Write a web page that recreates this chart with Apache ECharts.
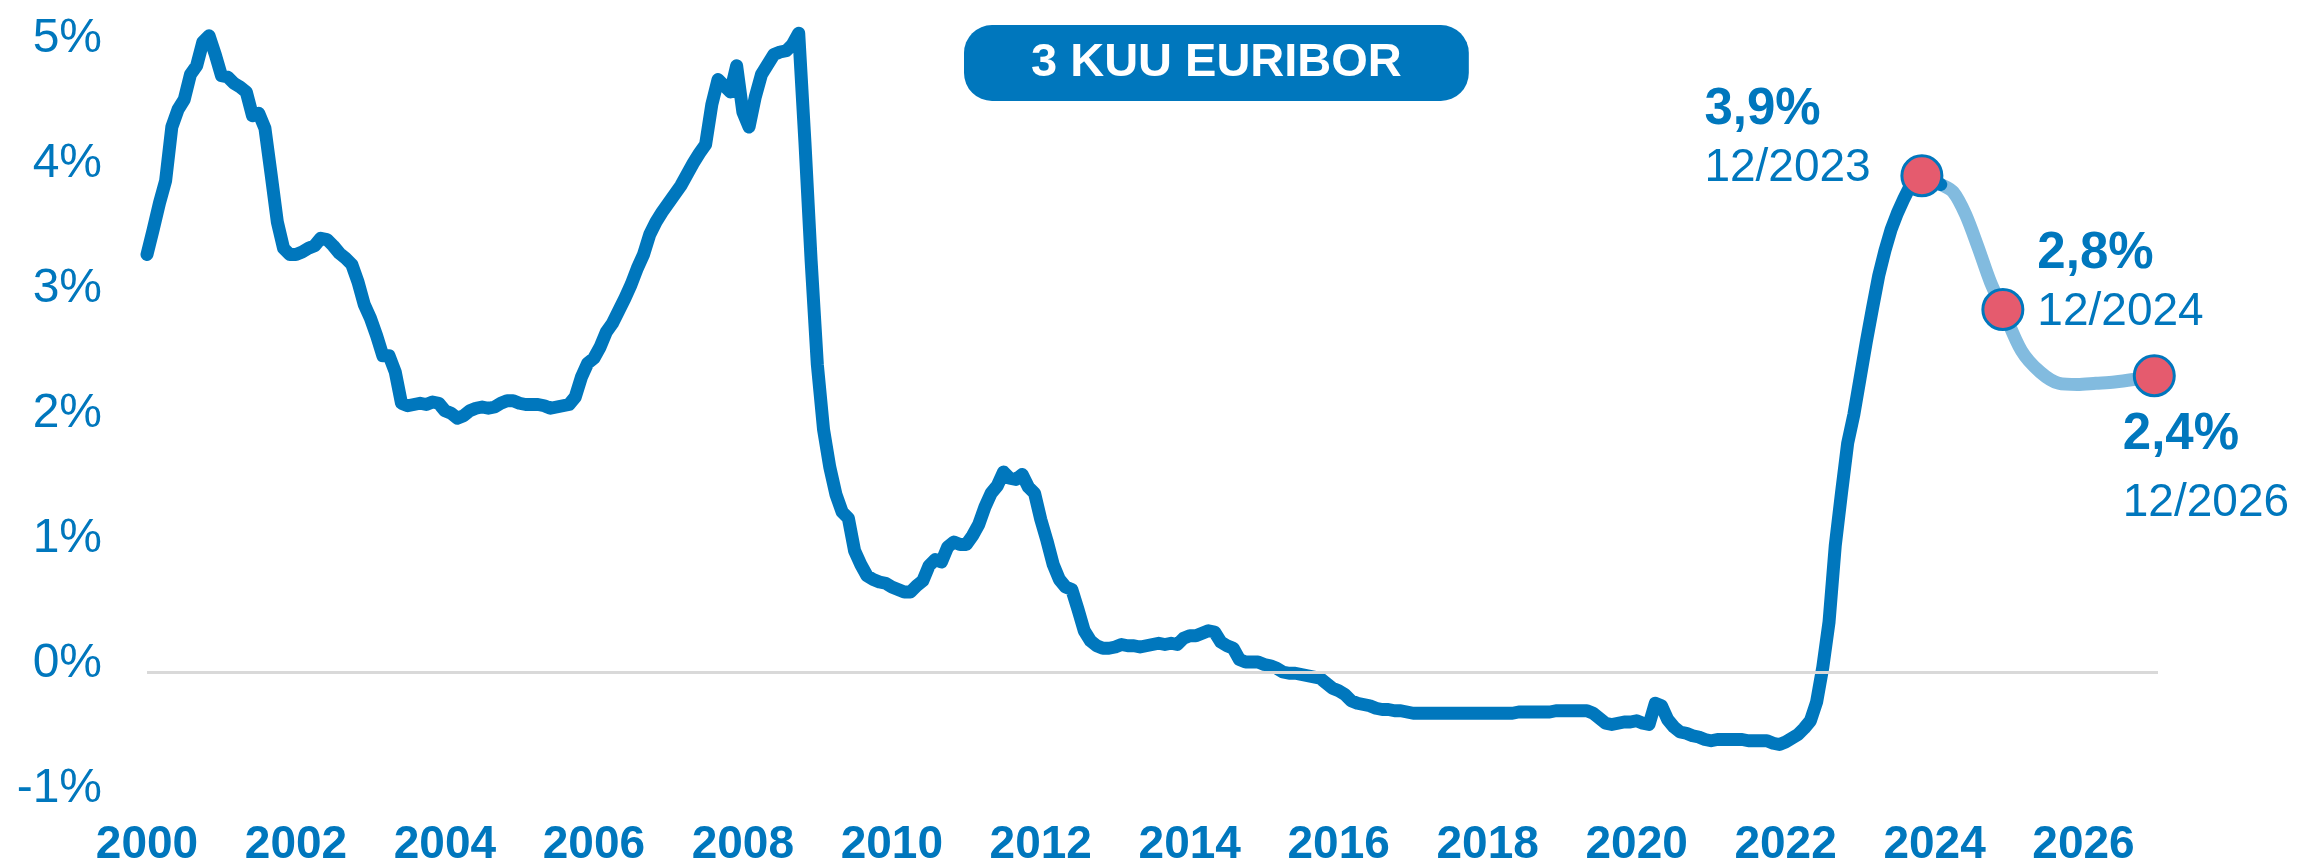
<!DOCTYPE html>
<html>
<head>
<meta charset="utf-8">
<script src="https://cdn.jsdelivr.net/npm/echarts@6/dist/echarts.min.js"></script>
<style>
  html, body { margin: 0; padding: 0; background: #fff; }
  #chart { width: 2300px; height: 868px; }
</style>
</head>
<body>
<div id="chart"></div>
<script>
// 3kk euribor, kuukausikeskiarvot (%), tammikuu 2000 alkaen
var euribor2000s = [
  3.34, 3.54, 3.75, 3.93, 4.36, 4.50, 4.58, 4.78, 4.85, 5.04, 5.09, 4.94,
  4.77, 4.76, 4.71, 4.68, 4.64, 4.45, 4.47, 4.35, 3.98, 3.60, 3.39, 3.34,
  3.34, 3.36, 3.39, 3.41, 3.47, 3.46, 3.41, 3.35, 3.31, 3.26, 3.12, 2.94,
  2.83, 2.69, 2.53, 2.53, 2.40, 2.15, 2.13, 2.14, 2.15, 2.14, 2.16, 2.15,
  2.09, 2.07, 2.03, 2.05, 2.09, 2.11, 2.12, 2.11, 2.12, 2.15, 2.17, 2.17,
  2.15, 2.14, 2.14, 2.14, 2.13, 2.11, 2.12, 2.13, 2.14, 2.20, 2.36, 2.47,
  2.51, 2.60, 2.72, 2.79, 2.89, 2.99, 3.10, 3.23, 3.34, 3.50, 3.60, 3.68,
  3.75, 3.82, 3.89, 3.98, 4.07, 4.15, 4.22, 4.54, 4.74, 4.69, 4.64, 4.85,
  4.48, 4.36, 4.60, 4.78, 4.86, 4.94, 4.96, 4.97, 5.02, 5.11, 4.24, 3.29,
  2.46, 1.94, 1.64, 1.42, 1.28, 1.23, 0.97, 0.86, 0.77, 0.74, 0.72, 0.71
];
var euribor2010s = [
  0.68, 0.66, 0.64, 0.64, 0.69, 0.73, 0.85, 0.90, 0.88, 1.00, 1.04, 1.02,
  1.02, 1.09, 1.18, 1.32, 1.43, 1.49, 1.60, 1.55, 1.54, 1.58, 1.48, 1.43,
  1.22, 1.05, 0.86, 0.74, 0.68, 0.66, 0.50, 0.33, 0.25, 0.21, 0.19, 0.19,
  0.20, 0.22, 0.21, 0.21, 0.20, 0.21, 0.22, 0.23, 0.22, 0.23, 0.22, 0.27,
  0.29, 0.29, 0.31, 0.33, 0.32, 0.24, 0.21, 0.19, 0.10, 0.08, 0.08, 0.08,
  0.06, 0.05, 0.03, 0.00, -0.01, -0.01, -0.02, -0.03, -0.04, -0.05, -0.09, -0.13,
  -0.15, -0.18, -0.23, -0.25, -0.26, -0.27, -0.29, -0.30, -0.30, -0.31, -0.31, -0.32,
  -0.33, -0.33, -0.33, -0.33, -0.33, -0.33, -0.33, -0.33, -0.33, -0.33, -0.33, -0.33,
  -0.33, -0.33, -0.33, -0.33, -0.33, -0.32, -0.32, -0.32, -0.32, -0.32, -0.32, -0.31,
  -0.31, -0.31, -0.31, -0.31, -0.31, -0.33, -0.37, -0.41, -0.42, -0.41, -0.40, -0.40
];
var euribor2020s = [
  -0.39, -0.41, -0.42, -0.25, -0.27, -0.38, -0.44, -0.48, -0.49, -0.51, -0.52, -0.54,
  -0.55, -0.54, -0.54, -0.54, -0.54, -0.54, -0.55, -0.55, -0.55, -0.55, -0.57, -0.58,
  -0.56, -0.53, -0.50, -0.45, -0.39, -0.24, 0.04, 0.40, 1.01, 1.43, 1.83, 2.06,
  2.35, 2.64, 2.91, 3.17, 3.37, 3.54, 3.67, 3.78, 3.88, 3.97, 3.97, 3.94,
  3.93, 3.90
];

// ennuste (vuosi desimaalina)
var forecastDates = [2023.917, 2024.083, 2024.25, 2024.417, 2024.583, 2024.75, 2024.917,
  2025.167, 2025.417, 2025.667, 2025.917, 2026.167, 2026.417, 2026.667, 2026.95];
var forecastValues = [3.94, 3.90, 3.84, 3.66, 3.40, 3.12, 2.90,
  2.57, 2.40, 2.31, 2.30, 2.31, 2.32, 2.34, 2.37];

// merkityt pisteet
var markerDates = [2023.83, 2024.917, 2026.95];
var markerValues = [3.97, 2.90, 2.37];
var markerValueLabels = ['3,9%', '2,8%', '2,4%'];
var markerDateLabels = ['12/2023', '12/2024', '12/2026'];

var yTicks = [-1, 0, 1, 2, 3, 4, 5];

var BLUE = '#0077BD';
var LIGHT = '#82BBDF';
var RED = '#E55B6E';
var FONT = '"Liberation Sans", Arial, sans-serif';

var historyData = [];
euribor2000s.concat(euribor2010s, euribor2020s).forEach(function (v, i) {
  historyData.push([2000 + i / 12, v]);
});
var forecastData = forecastDates.map(function (d, i) { return [d, forecastValues[i]]; });

// label offsets relative to the symbol box
var labelPos = [[-196, -73], [56, -63], [-10, 52]];
var markers = markerDates.map(function (d, i) {
  return {
    value: [d, markerValues[i]],
    label: {
      show: true,
      position: labelPos[i],
      align: 'left',
      verticalAlign: 'top',
      formatter: '{v|' + markerValueLabels[i] + '}\n{' + (i === 2 ? 'd3' : 'd') + '|' + markerDateLabels[i] + '}'
    }
  };
});

var myChart = echarts.init(document.getElementById('chart'));
myChart.setOption({
  animation: false,
  title: {
    text: '3 KUU EURIBOR',
    left: 964,
    top: 25,
    padding: [14, 67, 14, 67],
    backgroundColor: BLUE,
    borderRadius: 28,
    textStyle: { color: '#fff', fontSize: 47, fontWeight: 'bold', fontFamily: FONT, lineHeight: 48 }
  },
  grid: { left: 147, right: 142, top: 47, bottom: 63 },
  xAxis: {
    type: 'value',
    min: 2000,
    max: 2027,
    interval: 2,
    axisLine: { show: false },
    axisTick: { show: false },
    splitLine: { show: false },
    axisLabel: {
      margin: 25,
      color: BLUE,
      fontSize: 46,
      fontWeight: 'bold',
      fontFamily: FONT,
      showMaxLabel: false,
      formatter: function (v) { return v % 2 === 0 ? String(v) : ''; }
    }
  },
  yAxis: {
    type: 'value',
    min: yTicks[0],
    max: yTicks[yTicks.length - 1],
    interval: 1,
    axisLine: { show: false },
    axisTick: { show: false },
    splitLine: { show: false },
    axisLabel: {
      margin: 45,
      color: BLUE,
      fontSize: 48,
      fontFamily: FONT,
      verticalAlign: 'bottom',
      lineHeight: 16,
      formatter: function (v) { return v + '%'; }
    }
  },
  series: [
    {
      name: 'ennuste',
      type: 'line',
      z: 2,
      data: forecastData,
      showSymbol: false,
      smooth: 0.3,
      clip: false,
      lineStyle: { color: LIGHT, width: 13, cap: 'round', join: 'round' },
      markLine: {
        silent: true,
        symbol: 'none',
        label: { show: false },
        lineStyle: { color: '#D9D9D9', width: 3, type: 'solid' },
        data: [{ yAxis: 0 }]
      }
    },
    {
      name: '3 kk Euribor',
      type: 'line',
      z: 3,
      data: historyData,
      showSymbol: false,
      clip: false,
      lineStyle: { color: BLUE, width: 13, cap: 'round', join: 'round' }
    },
    {
      type: 'scatter',
      z: 5,
      data: markers,
      symbolSize: 40,
      itemStyle: { color: RED, borderColor: BLUE, borderWidth: 3, opacity: 1 },
      label: {
        rich: {
          v: { color: BLUE, fontSize: 51, fontWeight: 'bold', fontFamily: FONT, lineHeight: 58 },
          d: { color: BLUE, fontSize: 46, fontFamily: FONT, lineHeight: 58 },
          d3: { color: BLUE, fontSize: 46, fontFamily: FONT, lineHeight: 78 }
        }
      }
    }
  ]
});
</script>
</body>
</html>
